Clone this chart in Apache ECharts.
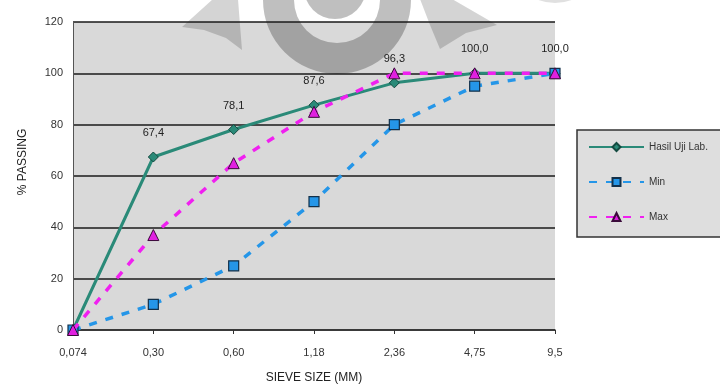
<!DOCTYPE html>
<html>
<head>
<meta charset="utf-8">
<script src="https://cdn.jsdelivr.net/npm/echarts@6/dist/echarts.min.js"></script>
<style>
  html, body { margin: 0; padding: 0; background: #fff; }
  #chart { width: 720px; height: 389px; }
</style>
</head>
<body>
<div id="chart"></div>
<script>
// Sieve sizes (mm) and gradation results
const sieveSizes = ['0,074', '0,30', '0,60', '1,18', '2,36', '4,75', '9,5'];
const hasilUjiLab = [0, 67.4, 78.1, 87.6, 96.3, 100.0, 100.0];
const specMin = [0, 10, 25, 50, 80, 95, 100];
const specMax = [0, 37, 65, 85, 100, 100, 100];
const yTicks = { min: 0, max: 120, interval: 20 };

const fmt = v => v.toFixed(1).replace('.', ',');
const FONT = 'Liberation Sans, Arial, sans-serif';

const chart = echarts.init(document.getElementById('chart'), null, { renderer: 'canvas' });

chart.setOption({
  animation: false,
  textStyle: { fontFamily: FONT },
  grid: {
    left: 73, right: 165, top: 22, bottom: 59,
    containLabel: false, outerBoundsMode: 'none',
    show: true, backgroundColor: '#d9d9d9', borderWidth: 0
  },
  legend: {
    orient: 'vertical',
    left: 583, top: 137,
    itemWidth: 55, itemHeight: 10, itemGap: 25,
    textStyle: { fontSize: 10, color: '#333', fontFamily: FONT },
    data: ['Hasil Uji Lab.', 'Min', 'Max']
  },
  xAxis: {
    type: 'category',
    data: sieveSizes,
    boundaryGap: false,
    name: 'SIEVE SIZE (MM)',
    nameLocation: 'middle',
    nameGap: 42,
    nameTextStyle: { fontSize: 12, color: '#222' },
    axisLine: { lineStyle: { color: '#333', width: 1.5 } },
    axisTick: { show: true, length: 4, lineStyle: { color: '#333' } },
    axisLabel: { fontSize: 11, color: '#333', margin: 17 },
    splitLine: { show: false }
  },
  yAxis: {
    type: 'value',
    min: yTicks.min, max: yTicks.max, interval: yTicks.interval,
    name: '% PASSING',
    nameLocation: 'middle',
    nameGap: 44,
    nameTextStyle: { fontSize: 12, color: '#222', padding: [0, 0, 0, 28] },
    axisLine: { show: true, lineStyle: { color: '#555', width: 1 } },
    axisTick: { show: false },
    axisLabel: { fontSize: 11, color: '#333', margin: 10 },
    splitLine: { show: true, lineStyle: { color: '#1a1a1a', width: 1.5 } }
  },
  series: [
    {
      name: 'Hasil Uji Lab.',
      type: 'line',
      data: hasilUjiLab,
      symbol: 'diamond',
      symbolSize: 10,
      lineStyle: { color: '#2a8a78', width: 3 },
      itemStyle: { color: '#2a8a78', borderColor: '#134a40', borderWidth: 1 },
      label: {
        show: true, position: 'top', distance: 13,
        fontSize: 11, color: '#222',
        formatter: p => (p.dataIndex === 0 ? '' : fmt(p.value))
      },
      z: 3
    },
    {
      name: 'Min',
      type: 'line',
      data: specMin,
      symbol: 'rect',
      symbolSize: 10,
      lineStyle: { color: '#2596e8', width: 3.5, type: [8, 9] },
      itemStyle: { color: '#2596e8', borderColor: '#12304a', borderWidth: 1.2 },
      z: 4
    },
    {
      name: 'Max',
      type: 'line',
      data: specMax,
      symbol: 'triangle',
      symbolSize: 11,
      lineStyle: { color: '#f020f0', width: 3.5, type: [8, 9] },
      itemStyle: { color: '#e020e0', borderColor: '#3a0a3a', borderWidth: 1 },
      z: 5
    }
  ],
  graphic: [
    // legend frame
    {
      type: 'rect', z: -1, silent: true,
      shape: { x: 577, y: 130, width: 160, height: 107 },
      style: { fill: '#dedede', stroke: '#333', lineWidth: 1.5 }
    },
    // faint logo watermark across the top
    {
      type: 'group', z: 50, silent: true,
      children: [
        { type: 'polygon', shape: { points: [[182, 27], [213, -1], [238, -1], [240, 25], [242, 50], [226, 38], [204, 30]] },
          style: { fill: 'rgba(0,0,0,0.17)' } },
        { type: 'polygon', shape: { points: [[420, -1], [452, -1], [497, 25], [466, 33], [440, 49], [430, 25]] },
          style: { fill: 'rgba(0,0,0,0.17)' } },
        { type: 'ring', shape: { cx: 337, cy: 0, r: 74, r0: 43 },
          style: { fill: 'rgba(0,0,0,0.25)' } },
        { type: 'circle', shape: { cx: 335, cy: -12, r: 31 },
          style: { fill: 'rgba(0,0,0,0.25)' } },
        { type: 'circle', shape: { cx: 555, cy: -45, r: 48 },
          style: { fill: 'rgba(0,0,0,0.12)' } }
      ]
    }
  ]
});
</script>
</body>
</html>
